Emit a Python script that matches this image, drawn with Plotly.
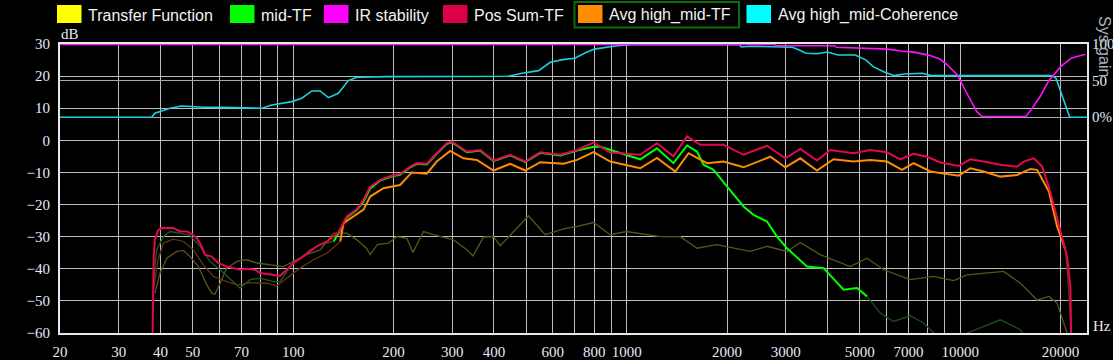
import math
import plotly.graph_objects as go

# ---------------- data ----------------
freq_ticks = [20, 30, 40, 50, 70, 100, 200, 300, 400, 600, 800, 1000, 2000, 3000, 5000, 7000, 10000, 20000]
freq_tick_labels = [str(v) for v in freq_ticks]
freq_minor = [60, 80, 90, 500, 700, 900, 4000, 6000, 8000, 9000]
db_ticks = [30, 20, 10, 0, -10, -20, -30, -40, -50, -60]
pct_ticks = [0, 50, 100]
pct_labels = ["0%", "50", "100"]

legend_names = ["Transfer Function", "mid-TF", "IR stability", "Pos Sum-TF",
                "Avg high_mid-TF", "Avg high_mid-Coherence"]

# Pos Sum-TF (crimson)
pos_sum_f = [37.9, 38.2, 38.5, 39.4, 40.4, 43.7, 45.8, 48.0, 49.7, 51.4, 53.2, 54.4, 57.0, 59.6,
             63.2, 69.3, 72.6, 76.9, 79.6, 91.4, 95.7, 100.2, 107.1, 117.8, 126.5, 136.6, 144.8,
             155.3, 162.6, 170.2, 182.4, 197.6, 209.2, 224.3, 235, 251.7, 269.4, 289.2, 299.2,
             309.7, 331.8, 364, 398.9, 447.6, 496.5, 550.7, 632.3, 709.7, 796, 893, 1098, 1233,
             1381, 1517, 1662, 1952, 2241, 2635, 2990, 3316, 3720, 4078, 4790, 5376, 6033, 6614,
             7250, 7956, 8724, 9897, 10729, 11762, 13201, 14815, 15506, 16617, 17630, 18672,
             20000, 20918, 21401, 21500]
pos_sum_db = [-60, -36, -31, -27.9, -27.3, -27.3, -28.3, -28.4, -29.2, -30.5, -33, -35.6, -36.2,
              -38.2, -39.3, -40.3, -40, -40.3, -41.3, -42.2, -40.3, -38.2, -36.2, -33, -31.5,
              -28.8, -23.7, -21.4, -18.5, -14.4, -12.3, -11, -10.5, -8.2, -7.1, -7.3, -4, -0.9,
              -0.4, -1.4, -3.5, -3, -6.3, -4.5, -6.6, -3.7, -4.5, -3, -0.7, -3.8, -4.5, -0.9,
              -5, 1.2, -1.4, -1.4, -4.5, -1.7, -5.6, -2.7, -6.3, -3, -4, -3, -3.7, -5.9, -4.2,
              -5.1, -6.9, -8, -5.9, -6.6, -7.6, -8.2, -6.6, -5.6, -8.2, -16.5, -27.9, -36.2,
              -45.5, -60]

# Avg high_mid-TF (orange), bright part
avg_tf_f = [138.4, 141.6, 162.6, 170.2, 186.6, 209.2, 226.9, 251.7, 269.4, 295.7, 324.1, 355.6,
            398.9, 447.6, 496.5, 550.7, 646.9, 709.7, 796, 893, 1098, 1233, 1399, 1533, 1741,
            1952, 2241, 2696, 2990, 3316, 3720, 4171, 4790, 5376, 6033, 6693, 7250, 8139, 9897,
            10729, 11762, 13201, 14815, 16240, 17007, 18464, 19522, 20674]
avg_tf_db = [-31.5, -25.8, -21.6, -17.5, -14.9, -13.9, -10, -10.4, -6.6, -3.3, -5.6, -6.1, -9.4,
             -7.3, -9.4, -6.8, -7.3, -6.1, -3.7, -6.6, -8.7, -5.5, -9.7, -4, -7.1, -6.6, -8.4,
             -5.1, -8.4, -5.6, -9.4, -5.9, -6.6, -6.1, -6.6, -9.2, -7.1, -9.7, -11, -8.7, -9.7,
             -11.3, -10.8, -8.9, -9.2, -16, -26.8, -34]
# Avg high_mid-TF, dimmed (low coherence) parts
avg_tf_low_f = [38.1, 39.4, 40.8, 43.7, 46.9, 50.2, 53.8, 57.7, 63.2, 67.8, 74.3, 83.4, 89.3,
                95.7, 104.9, 115.1, 126.5, 138.4]
avg_tf_low_db = [-46.5, -37.2, -32, -30.8, -31.5, -34.1, -38.8, -42.4, -44, -45, -44.3, -44.5,
                 -45.3, -42.9, -39.8, -37.2, -35.1, -31.5]
avg_tf_top_f = [20674, 21100, 21500]
avg_tf_top_db = [-34, -45, -60]

# mid-TF (green)
mid_low_f = [38.1, 39.0, 40.8, 42.7, 45.8, 49.1, 52.6, 56.3, 60.4, 66.2, 69.3, 74.3, 79.6, 87.3,
             91.4, 97.9, 104.9, 112.5, 120.5, 132.2]
mid_low_db = [-44.5, -34.1, -30, -28.4, -28.9, -29.7, -33, -37.7, -40.3, -44, -46, -43.4, -42.9,
              -44, -44, -39.3, -36.7, -34.1, -32.5, -31.5]
mid_f = [132.2, 136.6, 144.8, 155.3, 162.6, 170.2, 182.4, 197.6, 209.2, 224.3, 235, 251.7, 269.4,
         289.2, 299.2, 309.7, 331.8, 364, 398.9, 447.6, 496.5, 550.7, 632.3, 709.7, 796, 833.6,
         957, 1098, 1233, 1381, 1517, 1625, 1700, 1822, 2000, 2241, 2401, 2635, 2823, 3025,
         3472, 3893, 4471, 4904, 5256]
mid_db = [-31.5, -29, -24, -21.6, -19, -15, -12.5, -11.2, -10.7, -8.4, -7.3, -7.5, -4.2, -1.1,
          -0.6, -1.6, -3.7, -3.2, -6.5, -4.7, -6.8, -3.9, -4.7, -3.2, -2, -2, -4, -5.9, -2.5,
          -7.1, -1.6, -3.5, -7.6, -9.2, -14.4, -20.6, -23.2, -25.3, -30, -33.6, -39.3, -39.8,
          -46.5, -46, -48.6]
mid_high_f = [5256, 5760, 6311, 7087, 7771, 8326, 9000, 10489, 13201, 15156, 16000]
mid_high_db = [-48.6, -53.8, -56.4, -54.6, -56.9, -60, -64, -60, -55.9, -59, -63]

# Transfer Function (dimmed olive)
tf_f = [38.5, 39.9, 41.8, 44.8, 46.9, 49.1, 52.0, 55.1, 57.0, 58.3, 60.4, 63.2, 67.8, 72.6, 77.8,
        87.3, 93.5, 100.2, 109.9, 120.5, 132.2, 144.8, 155.3, 165.9, 170.2, 178.9, 193.1, 204.6,
        219.3, 228.6, 245.9, 263.5, 302.5, 331.8, 346.4, 372.3, 398.9, 417.8, 458, 508, 570,
        646.9, 709.7, 796, 893, 1000, 1261, 1449, 1625, 1865, 2346, 2635, 3025, 3316, 3804,
        4678, 5256, 5893, 7087, 8326, 9561, 10489, 13506, 15156, 17007, 18464, 19522, 20918]
tf_db = [-47.6, -41.3, -36.7, -34.6, -34.3, -36.2, -39.3, -45, -47.6, -47.9, -44.5, -39.8, -37.7,
         -37.2, -38.2, -38.8, -39.3, -37.7, -35.6, -34.1, -28.9, -28.9, -31, -33.6, -35.6, -32.5,
         -32, -30, -30.5, -34.9, -28.4, -29.4, -31, -34.1, -36, -30.1, -30, -32.8, -28.4, -23.5,
         -29.4, -27.6, -26.8, -25.6, -29.4, -28.4, -30, -30, -33.6, -32.5, -34.6, -33, -34.6,
         -31.8, -35.6, -39.3, -36.7, -40.3, -43.4, -42.4, -43.7, -41.9, -40.8, -44.5, -49.7,
         -48.6, -50.7, -60]

# Avg high_mid-Coherence (percent, right axis)
coh_f = [20, 37.7, 38.5, 42.7, 46.3, 54.4, 61.1, 80.6, 86.3, 99.1, 106.2, 113.8, 120.5, 127.6,
         136.6, 146.5, 155.3, 192.7, 441.3, 485.4, 544.4, 590, 650, 699.5, 752, 800, 935, 1030,
         2182, 2205, 2346, 2778, 3137, 3293, 3451, 3720, 4000, 4301, 4847, 5222, 5484, 5893,
         6342, 6818, 7700, 8179, 18877, 19392, 21300, 24000]
coh_pct = [0, 0, 5.5, 12.3, 15.4, 13.6, 13.4, 12.3, 16.8, 21.3, 25.9, 35.9, 35.9, 26.7, 32.7, 50,
           54.6, 55.4, 56, 60, 63.6, 75, 79, 80.5, 88, 93, 97.7, 99, 99, 96, 97, 96.3, 95.5,
           91.8, 87.3, 86.8, 89, 85, 85, 78, 69, 62, 56.8, 59, 60, 56.8, 56.8, 53, 0, 0]

# IR stability (percent, right axis)
irs_f = [20, 2778, 2800, 4197, 4255, 6037, 6660, 7335, 8083, 8694, 9125, 9808, 10546, 11212,
         11622, 15730, 16308, 17350, 18440, 18900, 20000, 21500, 23735]
irs_pct = [99.3, 99.3, 97.7, 97.7, 95.5, 93, 90.4, 88.6, 84.5, 79.5, 72, 57.7, 30, 7.7, 1, 1,
           10, 28, 50, 56, 69, 80.5, 86]

# ---------------- layout helpers ----------------
W, H = 1113, 360
L, T = 60, 44
PW, PH = 1027, 289
R, B = W - L - PW, H - T - PH


def px(x):  # window pixel x -> paper
    return (x - L) / PW


def py(y):  # window pixel y -> paper
    return (T + PH - y) / PH


BG = "#000000"
GRID = "#bdbdbd"
TICKC = "#e6ebf2"
SERIF = "Liberation Serif"
SANS = "Liberation Sans"

fig = go.Figure()


def line(f, v, color, width, yaxis="y"):
    fig.add_trace(go.Scatter(x=f, y=v, mode="lines", yaxis=yaxis,
                             line=dict(color=color, width=width), hoverinfo="skip",
                             showlegend=False))


line(tf_f, tf_db, "#5a5417", 1.3)
line(mid_low_f, mid_low_db, "#1d5a1d", 1.3)
line(mid_high_f, mid_high_db, "#1a4f1a", 1.3)
line(avg_tf_low_f, avg_tf_low_db, "#5e3512", 1.3)
line(avg_tf_top_f, avg_tf_top_db, "#5e3512", 1.3)
line(coh_f, coh_pct, "#1ad2da", 1.6, "y2")
line(irs_f, irs_pct, "#ff10ff", 1.6, "y2")
line(mid_f, mid_db, "#00ff00", 2)
line(avg_tf_f, avg_tf_db, "#ff8c00", 2)
line(pos_sum_f, pos_sum_db, "#e3074d", 2)

fig.update_layout(
    width=W, height=H,
    margin=dict(l=L, r=R, t=T, b=B, pad=0, autoexpand=False),
    paper_bgcolor=BG, plot_bgcolor=BG,
    showlegend=False,
    hovermode=False,
    xaxis=dict(type="log", range=[math.log10(20), math.log10(24000)], automargin=False,
               tickvals=freq_ticks, ticktext=freq_tick_labels, ticks="",
               showgrid=True, gridcolor=GRID, gridwidth=1,
               minor=dict(tickvals=freq_minor, showgrid=True, gridcolor=GRID, gridwidth=1, ticks=""),
               tickfont=dict(family=SERIF, size=15, color=TICKC),
               ticklabelstandoff=4,
               showline=True, linecolor="#e8e8e8", linewidth=2, mirror=True, zeroline=False),
    yaxis=dict(range=[-60, 30], tickvals=db_ticks, ticks="", automargin=False,
               showgrid=True, gridcolor=GRID, gridwidth=1.3, zeroline=False,
               tickfont=dict(family=SERIF, size=15, color=TICKC),
               ticklabelstandoff=5,
               showline=True, linecolor="#e8e8e8", linewidth=2, mirror=True),
    yaxis2=dict(overlaying="y", side="right", range=[-294.7, 100], automargin=False,
                tickvals=pct_ticks, ticktext=pct_labels, ticks="",
                showgrid=True, gridcolor="#a8a8a8", gridwidth=1, zeroline=False,
                tickfont=dict(family=SERIF, size=15, color=TICKC),
                ticklabelstandoff=4, showline=False),
)

shapes = []
annotations = []

# legend swatches and labels
legend_colors = ["#ffff00", "#00ff00", "#ff00ff", "#dc0046", "#ff8c00", "#00ffff"]
legend_x = [57, 230, 324, 443, 578, 746.5]
for name, col, x0 in zip(legend_names, legend_colors, legend_x):
    shapes.append(dict(type="rect", xref="paper", yref="paper",
                       x0=px(x0), x1=px(x0 + 24.5), y0=py(23), y1=py(5),
                       fillcolor=col, line=dict(width=0)))
    annotations.append(dict(xref="paper", yref="paper", x=px(x0 + 29), y=py(15),
                            xanchor="left", yanchor="middle", text=name, showarrow=False,
                            font=dict(family=SANS, size=16, color="#f2f2f2")))
# highlight box around the selected legend item
shapes.append(dict(type="rect", xref="paper", yref="paper",
                   x0=px(574.5), x1=px(739), y0=py(27.5), y1=py(2),
                   line=dict(color="#0b6e0b", width=2)))

annotations.append(dict(xref="paper", yref="paper", x=px(59), y=py(34), xanchor="left",
                        yanchor="middle", text="dB", showarrow=False,
                        font=dict(family=SERIF, size=15, color=TICKC)))
annotations.append(dict(xref="paper", yref="paper", x=px(1091), y=py(326), xanchor="left",
                        yanchor="middle", text="Hz", showarrow=False,
                        font=dict(family=SERIF, size=15, color=TICKC)))
annotations.append(dict(xref="paper", yref="paper", x=px(1105), y=py(46), xanchor="center",
                        yanchor="middle", text="Sys gain", textangle=90, showarrow=False,
                        font=dict(family=SANS, size=16, color="#aab2bf")))

fig.update_layout(shapes=shapes, annotations=annotations)
fig.write_html("out.html", config={"displayModeBar": False},
               post_script="document.body.style.margin='0';document.body.style.background='#000';")
